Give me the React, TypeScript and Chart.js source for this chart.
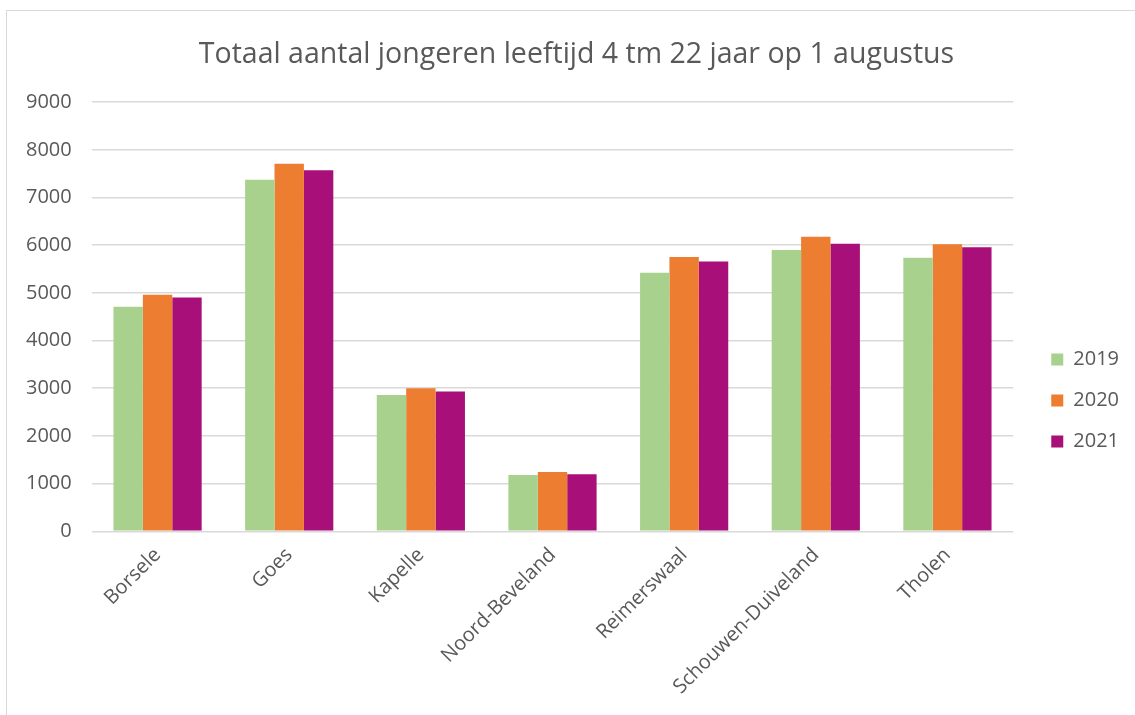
import React, { useEffect, useRef } from "react";
import { Chart, registerables } from "chart.js";

Chart.register(...registerables);

const categories = ["Borsele", "Goes", "Kapelle", "Noord-Beveland", "Reimerswaal", "Schouwen-Duiveland", "Tholen"];
const seriesLabels = ["2019", "2020", "2021"];
const values2019 = [4710, 7375, 2860, 1180, 5425, 5900, 5735];
const values2020 = [4960, 7710, 3000, 1245, 5755, 6180, 6020];
const values2021 = [4905, 7570, 2930, 1195, 5660, 6030, 5955];
const colors = ["#a9d18e", "#ed7d31", "#a80f78"];
const title = "Totaal aantal jongeren leeftijd 4 tm 22 jaar op 1 augustus";

const FONT = "'Open Sans', 'Noto Sans', sans-serif";
const TEXT = "#595959";

// small offsets for legend / title placement
const LEGEND_DX = 17;
const LEGEND_DY = 49;
const TITLE_DX = 17.5;

const shiftPlugin = {
  id: "shiftBlocks",
  afterLayout(chart: any) {
    const lg = chart.legend;
    if (lg) {
      lg.left += LEGEND_DX;
      lg.right += LEGEND_DX;
      lg.top += LEGEND_DY;
      lg.bottom += LEGEND_DY;
    }
    const tb = chart.titleBlock;
    if (tb) {
      tb.left += TITLE_DX;
      tb.right += TITLE_DX;
    }
  },
};

export default function App() {
  const ref = useRef<HTMLCanvasElement | null>(null);
  useEffect(() => {
    document.body.style.margin = "0";
    const ctx = ref.current!;
    const chart = new Chart(ctx, {
      type: "bar",
      data: {
        labels: categories,
        datasets: [values2019, values2020, values2021].map((d, i) => ({
          label: seriesLabels[i],
          data: d,
          backgroundColor: colors[i],
          borderWidth: 0,
          barPercentage: 1,
          categoryPercentage: 0.67,
        })),
      },
      plugins: [shiftPlugin],
      options: {
        animation: false,
        responsive: false,
        maintainAspectRatio: false,
        layout: { padding: { left: 6, right: 23, top: 0, bottom: 12 } },
        plugins: {
          title: {
            display: true,
            text: title,
            color: TEXT,
            font: { family: FONT, size: 28.5, weight: "normal" },
            padding: { top: 38, bottom: 30 },
          },
          legend: {
            position: "right",
            align: "center",
            labels: {
              boxWidth: 12,
              boxHeight: 12,
              padding: 21,
              color: TEXT,
              font: { family: FONT, size: 20 },
            },
          },
          tooltip: { enabled: false },
        },
        scales: {
          x: {
            grid: { display: false },
            border: { display: false },
            ticks: {
              color: TEXT,
              font: { family: FONT, size: 20 },
              maxRotation: 45,
              minRotation: 45,
              padding: 4,
            },
          },
          y: {
            min: 0,
            max: 9000,
            border: { display: false },
            grid: { color: "#d9d9d9", lineWidth: 1.5, drawTicks: false },
            ticks: {
              stepSize: 1000,
              color: TEXT,
              font: { family: FONT, size: 20 },
              padding: 20,
              callback: (v: any) => String(v),
            },
          },
        },
      },
    });
    return () => chart.destroy();
  }, []);
  return (
    <div style={{ position: "relative", width: 1135, height: 715, overflow: "hidden", background: "#fff" }}>
      <div
        style={{
          position: "absolute",
          left: 6,
          top: 10,
          width: 1300,
          height: 900,
          border: "1.5px solid #d9d9d9",
          boxSizing: "border-box",
        }}
      />
      <canvas ref={ref} width={1135} height={715} style={{ position: "absolute", left: 0, top: 0 }} />
    </div>
  );
}
